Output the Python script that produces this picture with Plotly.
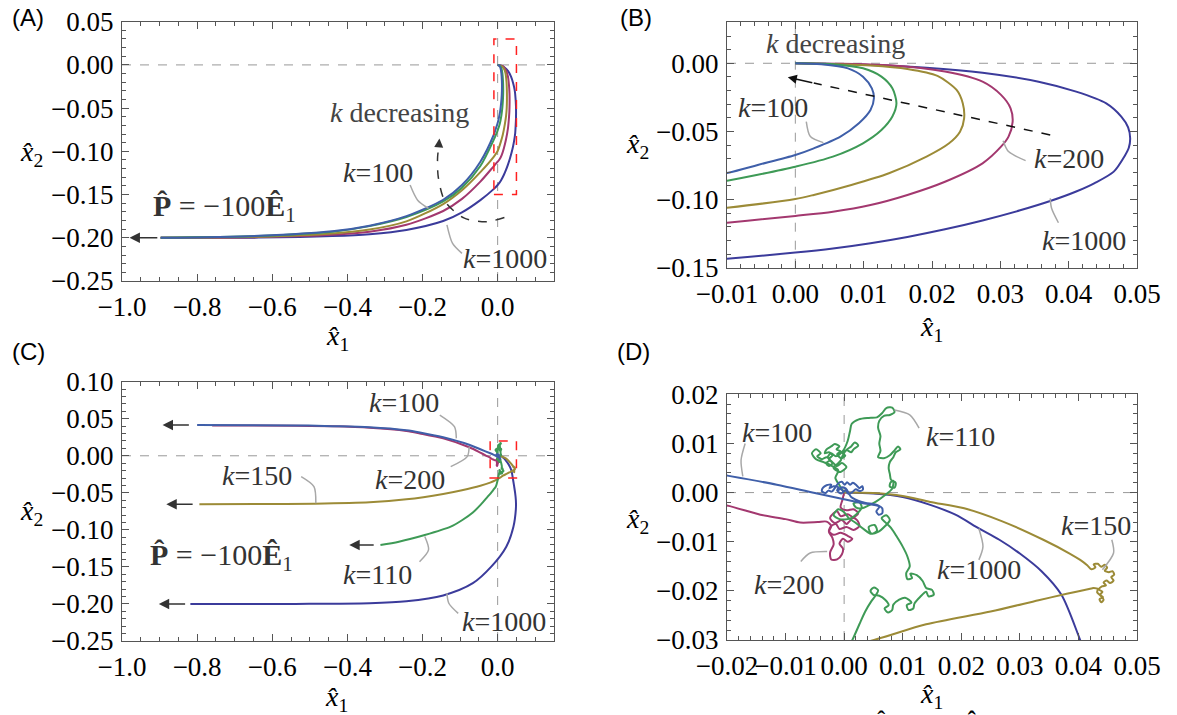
import plotly.graph_objects as go

SERIF = "Liberation Serif"
SANS = "Liberation Sans"

COLORS = {1000: "#3b3b9b", 200: "#a3386f", 150: "#9c8b37", 110: "#3e9a56", 100: "#3f5fa9"}

# ---------------- panels A / B : smooth trajectories ----------------
ab_k1000_x = [0, 0.011, 0.0192, 0.0274, 0.0356, 0.0411, 0.0455, 0.0477, 0.0487, 0.049, 0.0488, 0.0482,
              0.0466, 0.0438, 0.0411, 0.0373, 0.0329, 0.0274, 0.0219, 0.0164, 0.011, 0.0055, 0.0, -0.01,
              -0.046, -0.095, -0.145, -0.243, -0.341, -0.44, -0.636, -0.897]
ab_k1000_y = [0, -0.0012, -0.0032, -0.0069, -0.0135, -0.0208, -0.0294, -0.0391, -0.047, -0.055, -0.062,
              -0.068, -0.0795, -0.0879, -0.0941, -0.1011, -0.1079, -0.1153, -0.1218, -0.1274, -0.132,
              -0.1359, -0.1389, -0.1434, -0.1564, -0.1706, -0.1806, -0.1909, -0.1958, -0.198, -0.1998, -0.2]

ab_k200_x = [0, 0.0137, 0.0219, 0.0274, 0.0301, 0.0315, 0.0318, 0.0312, 0.0301, 0.0274, 0.0219, 0.0164,
             0.011, 0.0055, 0, -0.01, -0.046, -0.095, -0.145, -0.243, -0.341, -0.44, -0.636, -0.897]
ab_k200_y = [0, -0.0015, -0.0061, -0.0135, -0.0232, -0.033, -0.043, -0.0538, -0.0612, -0.0734, -0.0869,
             -0.0966, -0.104, -0.1089, -0.112, -0.117, -0.135, -0.155, -0.169, -0.185, -0.193, -0.1965,
             -0.1992, -0.2]

ab_k150_x = [0, 0.011, 0.0164, 0.0208, 0.0236, 0.0245, 0.0247, 0.0241, 0.0225, 0.0192, 0.0137, 0.0082,
             0.0027, 0, -0.01, -0.046, -0.095, -0.145, -0.243, -0.341, -0.44, -0.636, -0.897]
ab_k150_y = [0, -0.0017, -0.0042, -0.0093, -0.0196, -0.0294, -0.0404, -0.0502, -0.0587, -0.0685, -0.0807,
             -0.0893, -0.0966, -0.0996, -0.106, -0.124, -0.145, -0.161, -0.181, -0.1905, -0.195, -0.1988,
             -0.2]

ab_k110_x = [0, 0.0055, 0.0099, 0.0126, 0.0142, 0.0148, 0.0142, 0.0126, 0.0099, 0.0055, 0, -0.0055, -0.01,
             -0.046, -0.095, -0.145, -0.243, -0.341, -0.44, -0.636, -0.897]
ab_k110_y = [0, -0.0007, -0.0037, -0.0098, -0.0184, -0.0294, -0.0391, -0.049, -0.0587, -0.0685, -0.0759,
             -0.0818, -0.0862, -0.117, -0.142, -0.158, -0.176, -0.1865, -0.193, -0.1978, -0.2]

ab_k100_x = [0, 0.0038, 0.0077, 0.0099, 0.0112, 0.0115, 0.011, 0.0093, 0.0066, 0.0027, 0, -0.0055, -0.01,
             -0.046, -0.095, -0.145, -0.243, -0.341, -0.44, -0.636, -0.897]
ab_k100_y = [0, -0.0007, -0.0037, -0.0098, -0.0184, -0.0257, -0.0343, -0.044, -0.0538, -0.0624, -0.0673,
             -0.0746, -0.0805, -0.112, -0.139, -0.156, -0.175, -0.186, -0.1925, -0.1977, -0.2]

# ---------------- panels C / D : wandering trajectories ----------------
cd_k1000_x = [0, 0.005, 0.010, 0.0147, 0.019, 0.023, 0.0265, 0.030, 0.0337, 0.0371, 0.0403, 0.0435, 0.0465,
              0.0485, 0.0485, 0.042, 0.023, -0.017, -0.066, -0.145, -0.243, -0.341, -0.538, -0.818]
cd_k1000_y = [0, -0.0002, -0.0009, -0.0025, -0.0045, -0.0073, -0.0096, -0.0124, -0.016, -0.0208, -0.030,
              -0.040, -0.050, -0.060, -0.072, -0.0957, -0.1227, -0.1497, -0.172, -0.1885, -0.1965, -0.1991,
              -0.1999, -0.2]

cd_k200_x = [0, -0.0003, -0.0006, 0.0004, 0.0016, 0.0024, 0.0016, 0.0006, -0.0006, -0.0012, -0.0018, -0.0024,
             -0.0016, -0.0004, 0.0004, 0.0008, 0.0015, 0.0022, 0.0026, 0.0016, 0.0004, -0.0008, -0.0014,
             -0.0022, -0.0026, -0.0018, -0.0006, 0.0006, 0.0014, 0.0006, -0.0002, -0.0008, -0.0002, -0.0004,
             -0.0012, -0.0022, -0.0024, -0.0018, -0.002, -0.0026, -0.0022, -0.003, -0.0045, -0.0075, -0.01,
             -0.0143, -0.0197, -0.03, -0.046, -0.074, -0.145, -0.207, -0.243, -0.341, -0.44, -0.538, -0.76]
cd_k200_y = [0, -0.0015, -0.003, -0.0036, -0.0034, -0.0042, -0.005, -0.0044, -0.0048, -0.0038, -0.0042,
             -0.0052, -0.0062, -0.0056, -0.0064, -0.006, -0.0052, -0.0056, -0.0068, -0.0076, -0.007, -0.0074,
             -0.0064, -0.0068, -0.0078, -0.0086, -0.0082, -0.0088, -0.0094, -0.01, -0.0094, -0.0104, -0.0114,
             -0.0126, -0.0136, -0.0136, -0.0122, -0.0106, -0.0092, -0.008, -0.0068, -0.0059, -0.006, -0.0061,
             -0.0054, -0.0045, -0.0027, 0.0, 0.0042, 0.0112, 0.0235, 0.0302, 0.0335, 0.0378, 0.0397, 0.0405,
             0.041]

cd_k150_x = [0, 0.005, 0.010, 0.0147, 0.0205, 0.0269, 0.034, 0.0385, 0.0403, 0.0415, 0.0422, 0.0429, 0.0426,
             0.0433, 0.0439, 0.0445, 0.0449, 0.0445, 0.0452, 0.0458, 0.0461, 0.0456, 0.046, 0.0454, 0.0448,
             0.0443, 0.0447, 0.044, 0.0435, 0.0441, 0.0437, 0.0442, 0.0436, 0.0439, 0.0443, 0.0438, 0.0432,
             0.0433, 0.0426, 0.0422, 0.038, 0.0332, 0.025, 0.014, 0.0051, -0.005, -0.02, -0.046, -0.095,
             -0.145, -0.243, -0.341, -0.489, -0.636, -0.794]
cd_k150_y = [0, -0.0001, -0.0007, -0.0019, -0.0032, -0.0058, -0.0096, -0.0124, -0.0137, -0.0148, -0.0156,
             -0.0152, -0.0146, -0.0145, -0.0151, -0.0147, -0.0153, -0.0159, -0.0162, -0.016, -0.0167, -0.0172,
             -0.0179, -0.0184, -0.0179, -0.0183, -0.0189, -0.0191, -0.0197, -0.0202, -0.0208, -0.0213,
             -0.0217, -0.0223, -0.0218, -0.021, -0.0203, -0.0196, -0.0194, -0.0195, -0.0206, -0.0219, -0.0242,
             -0.0268, -0.03, -0.0328, -0.0362, -0.0405, -0.0465, -0.0515, -0.0588, -0.0628, -0.0646, -0.0651,
             -0.0655]

# k=110: knotted start near the origin, then the long excursion and the pull-out to the left
cd_k110_x = ([0, -0.0008, -0.0015, -0.001, -0.0022, -0.0035, -0.0048, -0.0055, -0.0048, -0.004, -0.0046,
              -0.0038, -0.003, -0.0024, -0.0031, -0.0026, -0.002, -0.0026, -0.002, -0.0026, -0.0033, -0.003,
              -0.0022, -0.0016, -0.0008, -0.0013, -0.0006, -0.0012, -0.0005, 0.0002, -0.0003, 0.0005, 0.0012,
              0.0016, 0.0024, 0.0018, 0.0012, 0.0003, -0.0003, -0.0006, -0.0012, -0.0018, -0.0012, -0.0006,
              0.0004, -0.0004, -0.0012, -0.002, -0.0028, -0.0022, -0.0014, -0.0002, 0.0006, 0.001, 0.0013]
             + [0.0025, 0.0042, 0.0056, 0.0065, 0.0072, 0.0082, 0.0086, 0.0078, 0.0068, 0.006, 0.0058, 0.0062,
                0.006, 0.0062, 0.0058, 0.0068, 0.0078, 0.0086, 0.0092, 0.0096, 0.0088, 0.0084, 0.0078, 0.0076,
                0.0078, 0.008, 0.0088, 0.0086, 0.0078, 0.0079, 0.0084, 0.0082, 0.007, 0.0055, 0.0042, 0.003,
                0.002, 0.0016, 0.0026, 0.003, 0.0022, 0.001, -0.0008, -0.0018, -0.001, 0.0, 0.0008, 0.002,
                0.0034, 0.0046, 0.0056, 0.0052, 0.0042, 0.0046, 0.0058, 0.007, 0.0078, 0.0072, 0.0064, 0.007,
                0.008, 0.009, 0.01, 0.0108, 0.0112, 0.0106, 0.0108, 0.0116, 0.0113, 0.0124, 0.0134, 0.014,
                0.015, 0.0153, 0.0144, 0.014, 0.013, 0.012, 0.0118, 0.011, 0.0107, 0.0115, 0.0104, 0.0094,
                0.0084, 0.0082, 0.0075, 0.0069, 0.0076, 0.007, 0.006, 0.005, 0.0045, 0.0051, 0.0058, 0.0054,
                0.0046, 0.0036, 0.0026, 0.0014, -0.0005, -0.0025, -0.0055, -0.010, -0.016, -0.027, -0.045,
                -0.066, -0.095, -0.125, -0.194, -0.263, -0.312])
cd_k110_y = ([0, 0.0015, 0.003, 0.0045, 0.0055, 0.0062, 0.0068, 0.008, 0.0088, 0.008, 0.0074, 0.0068, 0.0072,
              0.0066, 0.006, 0.0054, 0.006, 0.0068, 0.0076, 0.0082, 0.008, 0.0088, 0.0094, 0.0099, 0.0094,
              0.0088, 0.0084, 0.0078, 0.007, 0.0075, 0.0081, 0.0086, 0.0082, 0.0088, 0.0096, 0.0102, 0.0094,
              0.0086, 0.0074, 0.0065, 0.0058, 0.005, 0.0044, 0.0042, 0.0052, 0.006, 0.0054, 0.0062, 0.0072,
              0.008, 0.0074, 0.0085, 0.0105, 0.0125, 0.014]
             + [0.0149, 0.0152, 0.0153, 0.0162, 0.0172, 0.0173, 0.0164, 0.0158, 0.0156, 0.0146, 0.0132, 0.0115,
                0.01, 0.0085, 0.0072, 0.007, 0.0076, 0.0086, 0.0094, 0.0088, 0.0082, 0.0072, 0.0062, 0.005,
                0.0038, 0.0026, 0.002, 0.001, 0.0012, 0.002, 0.0024, 0.0008, -0.0005, -0.0018, -0.0026,
                -0.0032, -0.003, -0.0022, -0.002, -0.003, -0.0043, -0.0053, -0.0054, -0.0046, -0.0034, -0.004,
                -0.0052, -0.0062, -0.0075, -0.0084, -0.0078, -0.0066, -0.007, -0.0083, -0.008, -0.0068,
                -0.0056, -0.0046, -0.0052, -0.006, -0.0072, -0.009, -0.011, -0.013, -0.015, -0.0164, -0.0176,
                -0.0174, -0.0165, -0.0168, -0.018, -0.0194, -0.0198, -0.0208, -0.0211, -0.0202, -0.0212,
                -0.0226, -0.0236, -0.0239, -0.0229, -0.0224, -0.0214, -0.0218, -0.0228, -0.0239, -0.0244,
                -0.0236, -0.0229, -0.0218, -0.021, -0.0208, -0.02, -0.0193, -0.0199, -0.0209, -0.0222,
                -0.0242, -0.0268, -0.03, -0.034, -0.038, -0.042, -0.045, -0.049, -0.0555, -0.066, -0.0765,
                -0.087, -0.0957, -0.107, -0.116, -0.1204])

cd_k100_x = [0, -0.0006, -0.0012, -0.001, -0.0018, -0.0025, -0.0022, -0.003, -0.0036, -0.0038, -0.0032,
             -0.0027, -0.0021, -0.0016, -0.001, -0.0004, 0.0001, 0.0005, 0.001, 0.0015, 0.0021, 0.0026, 0.0031,
             0.0032, 0.0026, 0.002, 0.0014, 0.0008, 0.0002, -0.0005, -0.0011, -0.0006, 0.0003, 0.0012, 0.003,
             0.0058, 0.0065, 0.0065, 0.0059, 0.0055, 0.006, 0.003, -0.005, -0.0115, -0.0197, -0.046, -0.074,
             -0.145, -0.207, -0.243, -0.341, -0.44, -0.538, -0.80]
cd_k100_y = [0, 0.0007, 0.0004, 0.0011, 0.0013, 0.0009, 0.0016, 0.0015, 0.001, 0.0003, -0.0001, 0.0004,
             0.0002, 0.0009, 0.0019, 0.0022, 0.0016, 0.0021, 0.0016, 0.002, 0.0015, 0.0009, 0.0013, 0.0006,
             0.0003, 0.0007, 0.0001, -0.0003, 0.0004, -0.0002, 0.0003, 0.001, 0.0008, -0.0009, -0.0019,
             -0.0026, -0.0032, -0.0042, -0.0045, -0.0038, -0.0029, -0.0021, -0.0001, 0.0016, 0.0034, 0.0088,
             0.0146, 0.025, 0.0315, 0.0345, 0.0385, 0.04, 0.041, 0.0415]

# tick values / labels
a_xticks = [-1.0, -0.8, -0.6, -0.4, -0.2, 0.0]
a_xtext = ["\u22121.0", "\u22120.8", "\u22120.6", "\u22120.4", "\u22120.2", "0.0"]
a_yticks = [0.05, 0.0, -0.05, -0.10, -0.15, -0.20, -0.25]
a_ytext = ["0.05", "0.00", "\u22120.05", "\u22120.10", "\u22120.15", "\u22120.20", "\u22120.25"]
b_xticks = [-0.01, 0.0, 0.01, 0.02, 0.03, 0.04, 0.05]
b_xtext = ["\u22120.01", "0.00", "0.01", "0.02", "0.03", "0.04", "0.05"]
b_yticks = [0.0, -0.05, -0.10, -0.15]
b_ytext = ["0.00", "\u22120.05", "\u22120.10", "\u22120.15"]
c_yticks = [0.10, 0.05, 0.0, -0.05, -0.10, -0.15, -0.20, -0.25]
c_ytext = ["0.10", "0.05", "0.00", "\u22120.05", "\u22120.10", "\u22120.15", "\u22120.20", "\u22120.25"]
d_xticks = [-0.02, -0.01, 0.0, 0.01, 0.02, 0.03, 0.04, 0.05]
d_xtext = ["\u22120.02", "\u22120.01", "0.00", "0.01", "0.02", "0.03", "0.04", "0.05"]
d_yticks = [0.02, 0.01, 0.0, -0.01, -0.02, -0.03]
d_ytext = ["0.02", "0.01", "0.00", "\u22120.01", "\u22120.02", "\u22120.03"]

W, H = 1177, 715


def px(x):
    return x / W


def py(y):
    return 1 - y / H


fig = go.Figure()


def add_line(x, y, color, ax, width=2.0, dash=None, shape="spline"):
    fig.add_trace(go.Scatter(x=x, y=y, mode="lines", xaxis="x" + ax, yaxis="y" + ax,
                             line=dict(color=color, width=width, dash=dash, shape=shape, smoothing=0.8),
                             hoverinfo="skip", showlegend=False))


# panels A and B share the same curves
for ax in ("", "2"):
    add_line(ab_k1000_x, ab_k1000_y, COLORS[1000], ax)
    add_line(ab_k200_x, ab_k200_y, COLORS[200], ax)
    add_line(ab_k150_x, ab_k150_y, COLORS[150], ax)
    add_line(ab_k110_x, ab_k110_y, COLORS[110], ax)
    add_line(ab_k100_x, ab_k100_y, COLORS[100], ax)

# panels C and D share the same curves
for ax in ("3", "4"):
    add_line(cd_k1000_x, cd_k1000_y, COLORS[1000], ax)
    add_line(cd_k200_x, cd_k200_y, COLORS[200], ax)
    add_line(cd_k150_x, cd_k150_y, COLORS[150], ax)
    add_line(cd_k110_x, cd_k110_y, COLORS[110], ax)
    add_line(cd_k100_x, cd_k100_y, COLORS[100], ax)

LEADER = "#a8a8a8"
# leader lines: (axis, xs, ys)
leaders = [
    ("", [-0.233, -0.213, -0.184], [-0.139, -0.1565, -0.166]),
    ("", [-0.135, -0.12, -0.095], [-0.185, -0.2065, -0.218]),
    ("2", [0.0016, 0.0022, 0.0041], [-0.0428, -0.0538, -0.0582]),
    ("2", [0.0337, 0.0312, 0.0304], [-0.0714, -0.0648, -0.0568]),
    ("2", [0.0385, 0.0375, 0.0373], [-0.117, -0.1064, -0.0991]),
    ("3", [-0.154, -0.115, -0.110], [0.055, 0.0393, 0.0235]),
    ("3", [-0.125, -0.081, -0.076], [-0.0147, -0.0012, 0.0123]),
    ("3", [-0.523, -0.489, -0.484], [-0.0282, -0.0417, -0.0642]),
    ("3", [-0.208, -0.184, -0.194], [-0.143, -0.127, -0.109]),
    ("3", [-0.105, -0.130, -0.135], [-0.2127, -0.199, -0.1856]),
    ("4", [-0.0169, -0.0176, -0.0173], [0.0100, 0.0066, 0.0033]),
    ("4", [0.0128, 0.0112, 0.0086], [0.0131, 0.0158, 0.0168]),
    ("4", [-0.0074, -0.0058, -0.0029], [-0.0140, -0.0123, -0.0120]),
    ("4", [0.0230, 0.0237, 0.0230], [-0.0137, -0.0110, -0.0073]),
    ("4", [0.0457, 0.0460, 0.0441], [-0.0096, -0.0123, -0.0157]),
]
for ax, lx, ly in leaders:
    add_line(lx, ly, LEADER, ax, width=1.5)

# dashed "k decreasing" arrows
add_line([0.018, -0.03, -0.09, -0.14, -0.158, -0.16, -0.157],
         [-0.1765, -0.1815, -0.177, -0.158, -0.13, -0.108, -0.095], "#333333", "", width=1.5, dash="dash")
add_line([0.0373, 0.0027], [-0.0526, -0.0145], "#111111", "2", width=1.5, dash="dash", shape="linear")


def frame_axis(rng, tickvals, ticktext, minor_dtick, domain, anchor):
    return dict(range=rng, domain=domain, anchor=anchor, tickmode="array", tickvals=tickvals,
                ticktext=ticktext, ticks="inside", ticklen=7, tickwidth=1, tickcolor="#555555",
                showline=True, linecolor="#555555", linewidth=1, mirror="allticks", showgrid=False,
                zeroline=False, tickangle=0, automargin=False, ticklabelstandoff=2,
                tickfont=dict(family=SERIF, size=27, color="black"),
                minor=dict(tickmode="linear", tick0=0, dtick=minor_dtick, ticks="inside", ticklen=4,
                           tickcolor="#555555", tickwidth=1, showgrid=False),
                fixedrange=True)


dom_ax = [px(122), px(554)]
dom_bx = [px(727), px(1137)]
layout = dict(
    width=W, height=H, margin=dict(l=0, r=0, t=0, b=0),
    font=dict(family=SERIF, size=24, color="black"),
    paper_bgcolor="white", plot_bgcolor="white", showlegend=False,
    xaxis=frame_axis([-1.0, 0.15], a_xticks, a_xtext, 0.05, dom_ax, "y"),
    yaxis=frame_axis([-0.25, 0.05], a_yticks, a_ytext, 0.01, [py(281), py(21.7)], "x"),
    xaxis2=frame_axis([-0.01, 0.05], b_xticks, b_xtext, 0.002, dom_bx, "y2"),
    yaxis2=frame_axis([-0.15, 0.03], b_yticks, b_ytext, 0.01, [py(267.7), py(22.4)], "x2"),
    xaxis3=frame_axis([-1.0, 0.15], a_xticks, a_xtext, 0.05, dom_ax, "y3"),
    yaxis3=frame_axis([-0.25, 0.10], c_yticks, c_ytext, 0.01, [py(641), py(381.7)], "x3"),
    xaxis4=frame_axis([-0.02, 0.05], d_xticks, d_xtext, 0.002, dom_bx, "y4"),
    yaxis4=frame_axis([-0.03, 0.02], d_yticks, d_ytext, 0.002, [py(640), py(394.3)], "x4"),
)
fig.update_layout(**layout)

# dashed zero lines and zoom boxes
ranges = {"": ([-1.0, 0.15], [-0.25, 0.05]), "2": ([-0.01, 0.05], [-0.15, 0.03]),
          "3": ([-1.0, 0.15], [-0.25, 0.10]), "4": ([-0.02, 0.05], [-0.03, 0.02])}
for ax, (xr, yr) in ranges.items():
    fig.add_shape(type="line", xref="x" + ax, yref="y" + ax, x0=xr[0], x1=xr[1], y0=0, y1=0,
                  line=dict(color="#999999", width=1, dash="dash"), layer="below")
    fig.add_shape(type="line", xref="x" + ax, yref="y" + ax, x0=0, x1=0, y0=yr[0], y1=yr[1],
                  line=dict(color="#999999", width=1, dash="dash"), layer="below")
fig.add_shape(type="rect", xref="x", yref="y", x0=-0.01, x1=0.05, y0=-0.15, y1=0.03,
              line=dict(color="#ff2020", width=1.5, dash="dash"))
fig.add_shape(type="rect", xref="x3", yref="y3", x0=-0.02, x1=0.05, y0=-0.03, y1=0.02,
              line=dict(color="#ff2020", width=1.5, dash="dash"))

ann = []


def label(ax, x, y, text, size=28, color="#333333"):
    ann.append(dict(xref="x" + ax, yref="y" + ax, x=x, y=y, text=text, showarrow=False,
                    font=dict(family=SERIF, size=size, color=color), xanchor="center", yanchor="middle"))


def arrow(ax, x_tip, y_tip, x_tail, y_tail, color="#333333", size=1.3, width=1.6):
    ann.append(dict(xref="x" + ax, yref="y" + ax, axref="x" + ax, ayref="y" + ax, x=x_tip, y=y_tip,
                    ax=x_tail, ay=y_tail, text="", showarrow=True, arrowhead=2, arrowsize=size,
                    arrowwidth=width, arrowcolor=color, font=dict(size=10)))


K = "<i>k</i>="
PLOAD = "<b>P\u0302</b> = \u2212100<b>\u00ca</b><sub>1</sub>"

# panel A
label("", -0.261, -0.055, "<i>k</i> decreasing", color="#444444")
label("", -0.319, -0.124, K + "100")
label("", 0.019, -0.2235, K + "1000")
label("", -0.726, -0.165, PLOAD, size=30, color="#333333")
arrow("", -0.98, -0.2, -0.902, -0.2)
arrow("", -0.155, -0.085, -0.157, -0.096, color="#333333", size=1.2, width=1.5)
# panel B
label("2", 0.0059, 0.0142, "<i>k</i> decreasing", color="#444444")
label("2", -0.0033, -0.0323, K + "100")
label("2", 0.0401, -0.0697, K + "200")
label("2", 0.0423, -0.1297, K + "1000")
arrow("2", -0.0011, -0.0103, 0.0027, -0.0145, color="#111111", size=1.2, width=1.5)
# panel C
label("3", -0.248, 0.0717, K + "100")
label("3", -0.233, -0.0318, K + "200")
label("3", -0.641, -0.026, K + "150")
label("3", -0.320, -0.160, K + "110")
label("3", 0.018, -0.223, K + "1000")
label("3", -0.735, -0.137, PLOAD, size=30, color="#333333")
arrow("3", -0.892, 0.0415, -0.818, 0.0415)
arrow("3", -0.882, -0.0655, -0.808, -0.0655)
arrow("3", -0.395, -0.1204, -0.326, -0.1204)
arrow("3", -0.902, -0.2, -0.828, -0.2)
# panel D
label("4", -0.0114, 0.0122, K + "100")
label("4", 0.0198, 0.0115, K + "110")
label("4", -0.0095, -0.0187, K + "200")
label("4", 0.0231, -0.0156, K + "1000")
label("4", 0.0430, -0.0066, K + "150")

# axis titles and panel letters (paper coordinates)
X1 = "<i>x\u0302</i><sub>1</sub>"
X2 = "<i>x\u0302</i><sub>2</sub>"
for (xp, yp, t) in [(337, 337, X1), (31, 153, X2), (931, 328, X1), (637, 145, X2),
                    (336, 698, X1), (31, 512, X2), (931, 695, X1), (637, 520, X2)]:
    ann.append(dict(xref="paper", yref="paper", x=px(xp), y=py(yp), text=t, showarrow=False,
                    font=dict(family=SERIF, size=28, color="black"), xanchor="center", yanchor="middle"))
for (xp, yp, t) in [(28, 17, "(A)"), (636, 17, "(B)"), (28, 351, "(C)"), (633, 351, "(D)")]:
    ann.append(dict(xref="paper", yref="paper", x=px(xp), y=py(yp), text=t, showarrow=False,
                    font=dict(family=SANS, size=24, color="black"), xanchor="center", yanchor="middle"))

# caption line below the figure, only its top edge falls inside the page
ann.append(dict(xref="paper", yref="paper", x=px(872), y=py(708), text=PLOAD, showarrow=False,
                font=dict(family=SERIF, size=24, color="black"), xanchor="left", yanchor="top"))

fig.update_layout(annotations=ann)
fig.write_html("out.html")
